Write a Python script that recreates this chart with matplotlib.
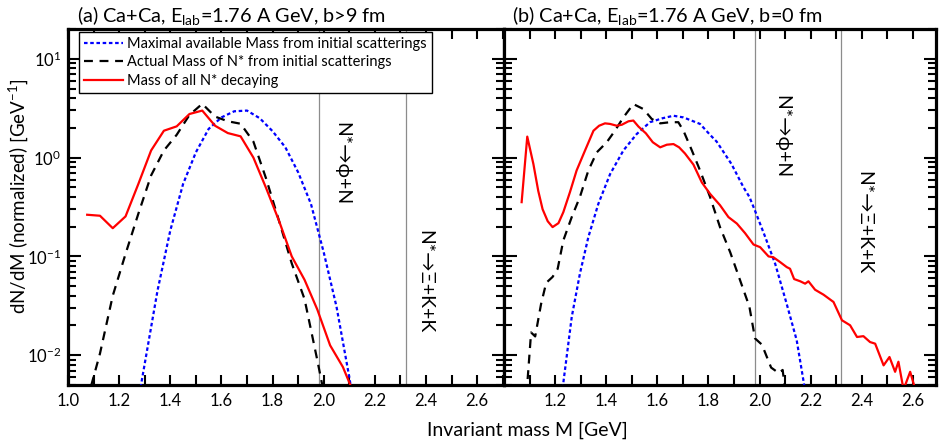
import matplotlib
matplotlib.use("Agg")
import matplotlib.pyplot as plt
import matplotlib.ticker as mticker
import matplotlib.transforms as mtransforms

plt.rcParams["font.family"] = ["Lato", "DejaVu Sans"]
plt.rcParams["mathtext.fontset"] = "custom"
plt.rcParams["mathtext.rm"] = "Lato"
plt.rcParams["mathtext.it"] = "Lato:italic"
plt.rcParams["mathtext.bf"] = "Lato:bold"

# ---------------- panel (a): b > 9 fm ----------------
max_mass_a_x = [1.25, 1.30, 1.35, 1.40, 1.45, 1.50, 1.55, 1.60, 1.65, 1.70,
                1.75, 1.80, 1.85, 1.90, 1.95, 2.00, 2.05, 2.10, 2.15]
max_mass_a_y = [0.0015, 0.0082, 0.045, 0.183, 0.54, 1.13, 1.95, 2.55, 2.94, 2.99,
                2.50, 1.85, 1.27, 0.71, 0.34, 0.11, 0.031, 0.006, 0.001]

actual_mass_a_x = [1.075, 1.125, 1.175, 1.225, 1.275, 1.325, 1.375, 1.425, 1.475,
                   1.525, 1.575, 1.625, 1.675, 1.725, 1.775, 1.825, 1.875, 1.925,
                   1.975, 2.025]
actual_mass_a_y = [0.0035, 0.0104, 0.040, 0.106, 0.27, 0.66, 1.18, 1.70, 2.70,
                   3.50, 2.60, 2.33, 2.20, 1.45, 0.61, 0.23, 0.085, 0.037,
                   0.0089, 0.002]

decay_mass_a_x = [1.075, 1.125, 1.175, 1.225, 1.275, 1.325, 1.375, 1.425, 1.475,
                  1.525, 1.575, 1.625, 1.675, 1.725, 1.775, 1.825, 1.875, 1.925,
                  1.975, 2.025, 2.075, 2.125]
decay_mass_a_y = [0.264, 0.258, 0.193, 0.254, 0.54, 1.18, 1.87, 2.07, 2.76,
                  2.99, 2.10, 1.77, 1.64, 1.00, 0.49, 0.23, 0.10, 0.058,
                  0.029, 0.0126, 0.0076, 0.0037]

# ---------------- panel (b): b = 0 fm ----------------
max_mass_b_x = [1.22, 1.245, 1.265, 1.297, 1.33, 1.369, 1.415, 1.467, 1.519, 1.571,
                1.62, 1.663, 1.702, 1.767, 1.806, 1.832, 1.89, 1.937, 1.96, 1.982,
                2.022, 2.061, 2.106, 2.145, 2.20]
max_mass_b_y = [0.003, 0.0096, 0.0244, 0.067, 0.157, 0.34, 0.68, 1.18, 1.73, 2.28,
                2.50, 2.65, 2.55, 2.19, 1.70, 1.45, 0.86, 0.50, 0.40, 0.29,
                0.157, 0.084, 0.033, 0.0142, 0.002]

actual_mass_b_x = [1.088, 1.106, 1.122, 1.145, 1.165, 1.19, 1.21, 1.232, 1.265,
                   1.297, 1.33, 1.363, 1.402, 1.434, 1.467, 1.506, 1.545, 1.578,
                   1.611, 1.65, 1.682, 1.702, 1.735, 1.767, 1.806, 1.845, 1.885,
                   1.924, 1.96, 1.982, 2.009, 2.045, 2.075, 2.09, 2.10]
actual_mass_b_y = [0.004, 0.017, 0.0155, 0.033, 0.054, 0.062, 0.075, 0.145, 0.25,
                   0.40, 0.74, 1.13, 1.43, 1.87, 2.55, 3.48, 3.10, 2.46,
                   2.22, 2.28, 2.28, 1.87, 1.18, 0.74, 0.40, 0.198, 0.11,
                   0.057, 0.031, 0.0148, 0.0128, 0.0075, 0.0066, 0.0071, 0.0045]

decay_mass_b_x = [1.069, 1.091, 1.115, 1.134, 1.151, 1.171, 1.19, 1.213, 1.232, 1.258,
                  1.284, 1.317, 1.35, 1.372, 1.395, 1.415, 1.441, 1.461, 1.487, 1.506,
                  1.526, 1.555, 1.582, 1.611, 1.637, 1.663, 1.685, 1.708, 1.741, 1.774,
                  1.806, 1.845, 1.878, 1.911, 1.943, 1.976, 2.002, 2.035, 2.054, 2.08,
                  2.106, 2.119, 2.135, 2.159, 2.178, 2.191, 2.217, 2.25, 2.289, 2.322,
                  2.354, 2.381, 2.406, 2.432, 2.452, 2.485, 2.508, 2.53, 2.543, 2.563,
                  2.589, 2.609]
decay_mass_b_y = [0.354, 1.63, 0.86, 0.46, 0.30, 0.227, 0.198, 0.217, 0.28, 0.447,
                  0.74, 1.18, 1.87, 2.10, 2.22, 2.19, 2.10, 2.15, 2.33, 2.37,
                  2.06, 1.76, 1.43, 1.27, 1.35, 1.37, 1.27, 1.10, 0.85, 0.56,
                  0.43, 0.33, 0.25, 0.215, 0.172, 0.132, 0.124, 0.100, 0.098, 0.0877,
                  0.078, 0.075, 0.059, 0.056, 0.053, 0.056, 0.046, 0.041, 0.0346, 0.0226,
                  0.0201, 0.0153, 0.0156, 0.0136, 0.0131, 0.0079, 0.0096, 0.0068, 0.0086, 0.0045,
                  0.0068, 0.0045]

# thresholds (GeV)
thresholds = [1.98, 2.32]
threshold_labels = ["N*\u2192\u03d5+N", "N*\u2192\u039e+K+K"]

legend_labels = ["Maximal available Mass from initial scatterings",
                 "Actual Mass of N* from initial scatterings",
                 "Mass of all N* decaying"]

titles = ["(a) Ca+Ca, E$_{\\mathrm{lab}}$=1.76 A GeV, b>9 fm",
          "(b) Ca+Ca, E$_{\\mathrm{lab}}$=1.76 A GeV, b=0 fm"]

W, H = 943, 441
fig = plt.figure(figsize=(W / 100, H / 100), dpi=100)


def rect(l, t, r, b):
    return [l / W, 1 - b / H, (r - l) / W, (b - t) / H]


axA = fig.add_axes(rect(68, 29, 504, 385))
axB = fig.add_axes(rect(504, 29, 936, 385))

BLUE_LS = (0, (1.6, 1.2))
BLACK_LS = (0, (4.0, 3.0))
LW = 1.6


def style(ax, xmax, first_label):
    ax.set_yscale("log")
    ax.set_ylim(0.005, 20)
    ax.set_xlim(1.0, xmax)
    ax.xaxis.set_major_locator(mticker.MultipleLocator(0.2))
    ax.xaxis.set_minor_locator(mticker.MultipleLocator(0.1))

    def fmt(v, pos):
        if v < first_label - 1e-6 or v > 2.65:
            return ""
        return "%.1f" % v

    ax.xaxis.set_major_formatter(mticker.FuncFormatter(fmt))
    ax.yaxis.set_major_locator(mticker.LogLocator(base=10, numticks=10))
    ax.yaxis.set_minor_locator(mticker.LogLocator(base=10, subs=range(2, 10), numticks=20))
    ax.yaxis.set_minor_formatter(mticker.NullFormatter())
    ax.tick_params(axis="both", which="both", direction="in", top=True, right=True,
                   width=1.5, labelsize=12)
    ax.tick_params(axis="x", which="both", length=7, pad=6)
    ax.tick_params(axis="y", which="major", length=9, pad=5)
    ax.tick_params(axis="y", which="minor", length=6)
    for s in ax.spines.values():
        s.set_linewidth(2.3)
    for t in thresholds:
        ax.axvline(t, color="#8c8c8c", lw=0.9, zorder=1)


style(axA, 2.705, 1.0)
style(axB, 2.69, 1.2)
axB.tick_params(axis="y", which="both", labelleft=False)

la, = axA.plot(max_mass_a_x, max_mass_a_y, color="blue", lw=LW, ls=BLUE_LS, zorder=3)
lb, = axA.plot(actual_mass_a_x, actual_mass_a_y, color="black", lw=LW, ls=BLACK_LS, zorder=3)
lc, = axA.plot(decay_mass_a_x, decay_mass_a_y, color="red", lw=LW, zorder=3)

axB.plot(max_mass_b_x, max_mass_b_y, color="blue", lw=LW, ls=BLUE_LS, zorder=3)
axB.plot(actual_mass_b_x, actual_mass_b_y, color="black", lw=LW, ls=BLACK_LS, zorder=3)
axB.plot(decay_mass_b_x, decay_mass_b_y, color="red", lw=LW, zorder=3)

# rotated threshold annotations
label_pos = {axA: [(2.07, 0.74), (2.397, 0.435)],
             axB: [(2.087, 0.815), (2.406, 0.60)]}
for ax, plist in label_pos.items():
    trans = mtransforms.blended_transform_factory(ax.transData, ax.transAxes)
    for (xp, yp), txt in zip(plist, threshold_labels):
        ax.text(xp, yp, txt, transform=trans, rotation=-90, ha="center", va="top",
                fontsize=14, family=["Lato", "DejaVu Sans"], zorder=4)

leg = axA.legend([la, lb, lc], legend_labels, loc="upper left",
                 bbox_to_anchor=((79 - 68) / 436, (385 - 32) / 356),
                 borderaxespad=0, fancybox=False, framealpha=1, edgecolor="black",
                 fontsize=10.5, handlelength=2.7, handletextpad=0.25,
                 labelspacing=0.3, borderpad=0.35)
leg.get_frame().set_linewidth(1.0)
leg.set_zorder(5)

fig.text(77 / W, 1 - 22 / H, titles[0], fontsize=14.3, va="baseline", ha="left")
fig.text(512 / W, 1 - 22 / H, titles[1], fontsize=14.3, va="baseline", ha="left")

fig.text(527 / W, 1 - 430 / H, "Invariant mass M [GeV]", fontsize=14,
         ha="center", va="center")
fig.text(18 / W, 1 - 196 / H, "dN/dM (normalized) [GeV$^{\\mathrm{-1}}$]", fontsize=13.5,
         ha="center", va="center", rotation=90)

fig.savefig("out.png", dpi=100)
